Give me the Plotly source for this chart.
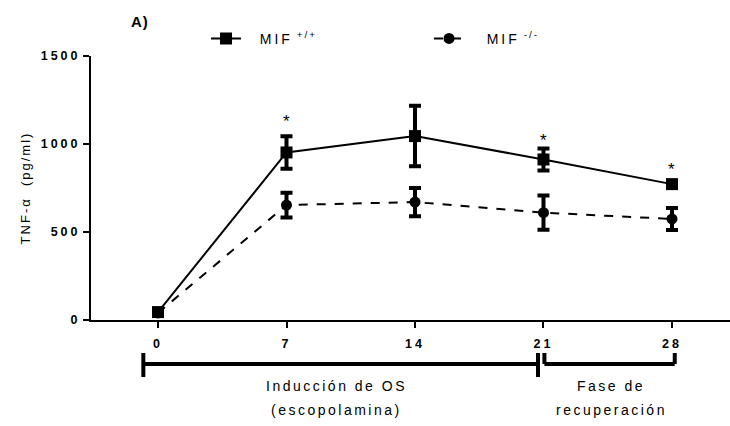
import plotly.graph_objects as go

days = [0, 7, 14, 21, 28]
wt_mean = [45, 952, 1045, 912, 772]
wt_err = [15, 92, 172, 62, 15]
ko_mean = [40, 653, 670, 610, 574]
ko_err = [12, 70, 80, 97, 62]
star_days = [7, 21, 28]
star_y = [1128, 1018, 853]
y_ticks = [0, 500, 1000, 1500]

FONT = "Liberation Sans, Arial, sans-serif"


def sp(t, ls=2):
    return f'<span style="letter-spacing:{ls}px">{t}</span>'


fig = go.Figure()
fig.add_trace(go.Scatter(
    x=days, y=wt_mean, mode="lines+markers",
    name=sp("&nbsp;&nbsp;MIF", 3) + " <sup>" + sp("+/+", 2) + "</sup>",
    line=dict(color="black", width=2),
    marker=dict(symbol="square", size=12, color="black"),
    error_y=dict(type="data", array=wt_err, color="black", thickness=4, width=6),
))
fig.add_trace(go.Scatter(
    x=days, y=ko_mean, mode="lines+markers",
    name="&nbsp;" + sp("&nbsp;&nbsp;MIF", 3) + " <sup>" + sp("-/-", 2) + "</sup>",
    line=dict(color="black", width=2, dash="dash"),
    marker=dict(symbol="circle", size=11, color="black"),
    error_y=dict(type="data", array=ko_err, color="black", thickness=4, width=6),
))

annotations = []
for d, y in zip(star_days, star_y):
    annotations.append(dict(x=d, y=y, xref="x", yref="y", text="*", showarrow=False,
                            font=dict(size=17, family=FONT, color="black")))
annotations += [
    dict(x=0.06, y=1.13, xref="paper", yref="paper", xanchor="left", yanchor="middle",
         text="<b>" + sp("A)", 1) + "</b>", showarrow=False,
         font=dict(size=15, family=FONT, color="black")),
    dict(x=9.75, y=-0.288, xref="x", yref="paper", text=sp("Inducción de OS", 2.5),
         showarrow=False, font=dict(size=14, family=FONT, color="black")),
    dict(x=9.75, y=-0.379, xref="x", yref="paper", text=sp("(escopolamina)", 2.5),
         showarrow=False, font=dict(size=14, family=FONT, color="black")),
    dict(x=24.7, y=-0.288, xref="x", yref="paper", text=sp("Fase de", 2.5),
         showarrow=False, font=dict(size=14, family=FONT, color="black")),
    dict(x=24.7, y=-0.379, xref="x", yref="paper", text=sp("recuperación", 2.5),
         showarrow=False, font=dict(size=14, family=FONT, color="black")),
]

ln = dict(color="black", width=4)
shapes = [
    dict(type="line", xref="x", yref="paper", x0=-0.8, x1=20.7, y0=-0.1667, y1=-0.1667, line=ln),
    dict(type="line", xref="x", yref="paper", x0=-0.8, x1=-0.8, y0=-0.125, y1=-0.216, line=ln),
    dict(type="line", xref="x", yref="paper", x0=20.7, x1=20.7, y0=-0.125, y1=-0.216, line=ln),
    dict(type="line", xref="x", yref="paper", x0=21.05, x1=28.15, y0=-0.1667, y1=-0.1667, line=ln),
    dict(type="line", xref="x", yref="paper", x0=21.05, x1=21.05, y0=-0.125, y1=-0.1667, line=ln),
    dict(type="line", xref="x", yref="paper", x0=28.15, x1=28.15, y0=-0.125, y1=-0.1667, line=ln),
]

fig.update_layout(
    width=730, height=426,
    margin=dict(l=91, r=0, t=56, b=106),
    paper_bgcolor="white", plot_bgcolor="white",
    font=dict(family=FONT, color="black"),
    showlegend=True,
    legend=dict(orientation="h", x=0.18, y=1.065, xanchor="left", yanchor="middle",
                entrywidth=178, entrywidthmode="pixels",
                font=dict(size=14, family=FONT, color="black"),
                bgcolor="rgba(0,0,0,0)"),
    xaxis=dict(range=[-3.65, 31.16], tickvals=days,
               ticktext=["<b>" + sp(str(d), 3) + "</b>" for d in days],
               showline=True, linecolor="black", linewidth=2,
               ticks="outside", ticklen=6, tickwidth=2, tickcolor="black",
               ticklabelstandoff=5,
               showgrid=False, zeroline=False,
               tickfont=dict(size=12.5, family=FONT, color="black")),
    yaxis=dict(range=[0, 1500], tickvals=y_ticks,
               ticktext=["<b>" + sp(str(v), 3) + "</b>" for v in y_ticks],
               showline=True, linecolor="black", linewidth=2,
               ticks="outside", ticklen=6, tickwidth=2, tickcolor="black",
               showgrid=False, zeroline=False,
               title=dict(text=sp("TNF-α  (pg/ml)"), standoff=7,
                          font=dict(size=13, family=FONT, color="black")),
               tickfont=dict(size=12.5, family=FONT, color="black")),
    annotations=annotations,
    shapes=shapes,
)

fig.write_html("out.html", config={"responsive": False, "displayModeBar": False},
               post_script="document.body.style.margin='0';document.body.style.overflow='hidden';")
